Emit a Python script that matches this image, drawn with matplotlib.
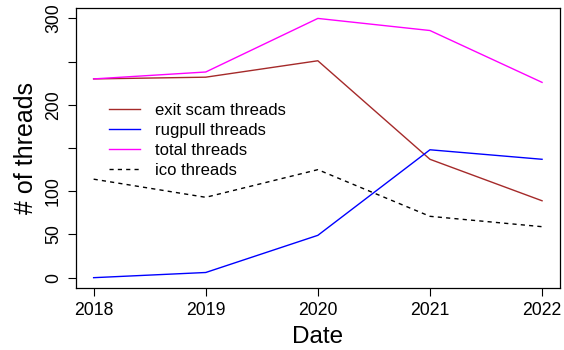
import numpy as np
import matplotlib
matplotlib.use('Agg')
from matplotlib import pyplot as plt

plt.rcParams['font.family'] = ['Liberation Sans', 'DejaVu Sans']

years = [2018, 2019, 2020, 2021, 2022]
exit_scam = [230, 232, 251, 137, 89]
rugpull = [0, 6, 49, 148, 137]
total = [230, 238, 300, 286, 226]
ico = [114, 93, 125, 71, 59]

y_ticks = [0, 50, 100, 150, 200, 250, 300]
y_labels = ['0', '50', '100', '', '200', '', '300']

fig = plt.figure(figsize=(5.64, 3.5), dpi=100)
ax = fig.add_axes([0.1342, 0.177, 0.8587, 0.800])

ax.plot(years, exit_scam, color='#A52A2A', lw=1, label='exit scam threads')
ax.plot(years, rugpull, color='#0000FF', lw=1, label='rugpull threads')
ax.plot(years, total, color='#FF00FF', lw=1, label='total threads')
ax.plot(years, ico, color='black', lw=1, dashes=(3, 3), label='ico threads')

ax.set_xlim(2017.84, 2022.16)
ax.set_ylim(-12, 312)
ax.set_xticks(years)
ax.set_xticklabels([str(y) for y in years])
ax.set_yticks(y_ticks)
ax.set_yticklabels(y_labels, rotation=90, va='center')

ax.tick_params(direction='out', length=6, width=0.8, labelsize=12.7, pad=4)
for s in ax.spines.values():
    s.set_linewidth(0.9)

ax.set_xlabel('Date', fontsize=17.5, labelpad=5)
ax.set_ylabel('# of threads', fontsize=18, labelpad=5)

ax.legend(loc='upper left', bbox_to_anchor=(0.069, 0.661), frameon=False,
          fontsize=12, handlelength=1.85, handletextpad=0.9,
          labelspacing=0.3, borderpad=0, borderaxespad=0)

fig.savefig('out.png', dpi=100)
